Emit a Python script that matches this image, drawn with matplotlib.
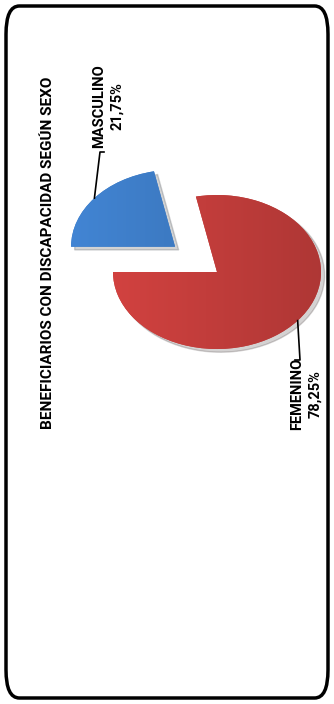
import numpy as np
import matplotlib.pyplot as plt
from matplotlib.patches import FancyBboxPatch

# datos
categorias = ['MASCULINO', 'FEMENINO']
porcentajes = [21.75, 78.25]
etiquetas = ['MASCULINO\n21,75%', 'FEMENINO\n78,25%']
colores = ['#3D7BC4', '#C23D3B']
titulo = 'BENEFICIARIOS CON DISCAPACIDAD SEGÚN SEXO'

W, H = 334, 704
fig = plt.figure(figsize=(W / 100, H / 100), dpi=100)
ax = fig.add_axes([0, 0, 1, 1])

# centro del pie en pixeles y escala (elipse)
cx, cy = 217, 272
rx, ry = 104, 77

wedges, _ = ax.pie(porcentajes, colors=colores, startangle=101.7, counterclock=True,
                   explode=[0.52, 0.0], radius=1,
                   wedgeprops=dict(edgecolor='none'),
                   shadow={'ox': 0.025, 'oy': -0.03, 'shade': 0.9, 'alpha': 0.18})
ax.set_aspect('auto')
ax.set_xlim((0 - cx) / rx, (W - cx) / rx)
ax.set_ylim((cy - H) / ry, (cy - 0) / ry)
ax.axis('off')

# gradiente para dar volumen
for w, c in zip(wedges, colores):
    rgb = np.array(plt.matplotlib.colors.to_rgb(c))
    xs = np.linspace(0, 1, 200)
    img = np.zeros((2, 200, 3))
    for k, t in enumerate(xs):
        img[:, k, :] = np.clip(rgb * (1.08 - 0.18 * t), 0, 1)
    x0, y0 = w.center
    im = ax.imshow(img, extent=[x0 - 1, x0 + 1, y0 - 1, y0 + 1], aspect='auto', zorder=w.get_zorder() + 0.1)
    im.set_clip_path(w)


def px2data(px, py):
    return (px - cx) / rx, (cy - py) / ry


# lineas guia
fines = [[(100, 152), (104, 152)], [(300, 360), (295, 360)]]
for w, fin in zip(wedges, fines):
    mid = np.deg2rad((w.theta1 + w.theta2) / 2)
    x0, y0 = w.center
    xs = [x0 + np.cos(mid)] + [px2data(*p)[0] for p in fin]
    ys = [y0 + np.sin(mid)] + [px2data(*p)[1] for p in fin]
    ax.plot(xs, ys, color='black', lw=1.2, zorder=5)

# textos rotados
fuente = ['Roboto', 'DejaVu Sans']
fig.text(48 / W, 1 - 253 / H, titulo, rotation=90, ha='center', va='center',
         fontsize=11, fontweight='bold', family=fuente)
pos_etq = [(108, 106), (306, 394)]
for (px, py), t in zip(pos_etq, etiquetas):
    fig.text(px / W, 1 - py / H, t, rotation=90, ha='center', va='center',
             multialignment='center', fontsize=10.5, fontweight='bold', family=fuente,
             linespacing=1.4)

# borde redondeado
borde = FancyBboxPatch((6 / W, 6 / H), (W - 12) / W, (H - 12) / H,
                       boxstyle='round,pad=0,rounding_size=0.04',
                       transform=fig.transFigure, fill=False, lw=2.5, ec='black')
fig.patches.append(borde)

fig.savefig('out.png', dpi=100)
